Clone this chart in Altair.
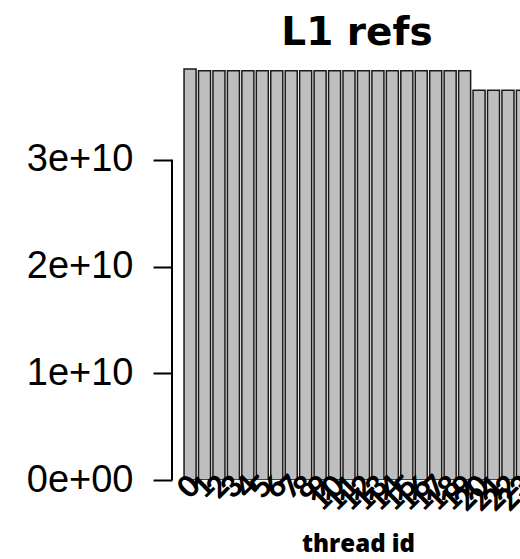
import altair as alt
import pandas as pd

thread_ids = list(range(24))
l1_refs = [3.85e10] + [3.834e10] * 19 + [3.65e10] * 4
y_ticks = [0, 1e10, 2e10, 3e10]
y_labels = ["0e+00", "1e+10", "2e+10", "3e+10"]

df = pd.DataFrame({"tid": thread_ids, "refs": l1_refs})
df["label"] = df["tid"].astype(str)

W, H = 348, 427

base = alt.Chart(df).transform_calculate(
    xs="datum.tid * 1.2 + 0.2",
    xe="datum.tid * 1.2 + 1.2",
    xc="datum.tid * 1.2 + 0.7",
)

xscale = alt.Scale(domain=[-0.8, 28.1], nice=False, zero=False)
yscale = alt.Scale(domain=[0, 4.0e10], nice=False)

label_expr = "datum.value == 0 ? '0e+00' : datum.value == 1e10 ? '1e+10' : datum.value == 2e10 ? '2e+10' : '3e+10'"

bars = base.mark_bar(
    color="#BEBEBE", stroke="#1a1a1a", strokeWidth=1.5, clip=True
).encode(
    x=alt.X(
        "xs:Q",
        scale=xscale,
        axis=alt.Axis(
            title="thread id",
            labels=False,
            ticks=False,
            domain=False,
            grid=False,
            titleFont="Open Sans",
            titleFontWeight=800,
            titleFontSize=24,
            titleColor="#000000",
            titleX=186,
            titleY=71,
            titleBaseline="alphabetic",
        ),
    ),
    x2="xe:Q",
    y=alt.Y(
        "refs:Q",
        scale=yscale,
        axis=alt.Axis(
            title=None,
            values=y_ticks,
            labelExpr=label_expr,
            domain=False,
            grid=False,
            tickSize=19,
            tickWidth=2,
            tickColor="#000000",
            labelPadding=20,
            labelFont="Liberation Sans",
            labelFontSize=38,
            labelColor="#000000",
            labelBaseline="middle",
        ),
    ),
    y2=alt.datum(0),
)

ylines = alt.Chart(pd.DataFrame({"lo": [y_ticks[0]], "hi": [y_ticks[-1]]})).mark_rule(
    color="#000000", strokeWidth=2
).encode(
    x=alt.value(0),
    y=alt.Y("lo:Q", scale=yscale),
    y2="hi:Q",
)

labels = base.mark_text(
    angle=315,
    align="right",
    baseline="middle",
    font="Lato",
    fontWeight=900,
    fontSize=30,
    color="#000000",
    dx=3,
    dy=5,
).encode(
    x=alt.X("xc:Q", scale=xscale),
    y=alt.Y("zero:Q", scale=yscale),
    text="label:N",
).transform_calculate(zero="0")

chart = alt.layer(bars, ylines, labels).properties(
    width=W,
    height=H,
    background="white",
    title=alt.TitleParams(
        "L1 refs",
        font="DejaVu Sans",
        fontWeight="bold",
        fontSize=39,
        color="#000000",
        anchor="middle",
        dx=11,
        offset=0,
    ),
    autosize=alt.AutoSizeParams(type="none"),
    padding={"left": 172, "top": 53, "right": 0, "bottom": 79},
).configure_view(stroke=None)

chart.save("out.html", embed_options={"renderer": "svg", "actions": False})
